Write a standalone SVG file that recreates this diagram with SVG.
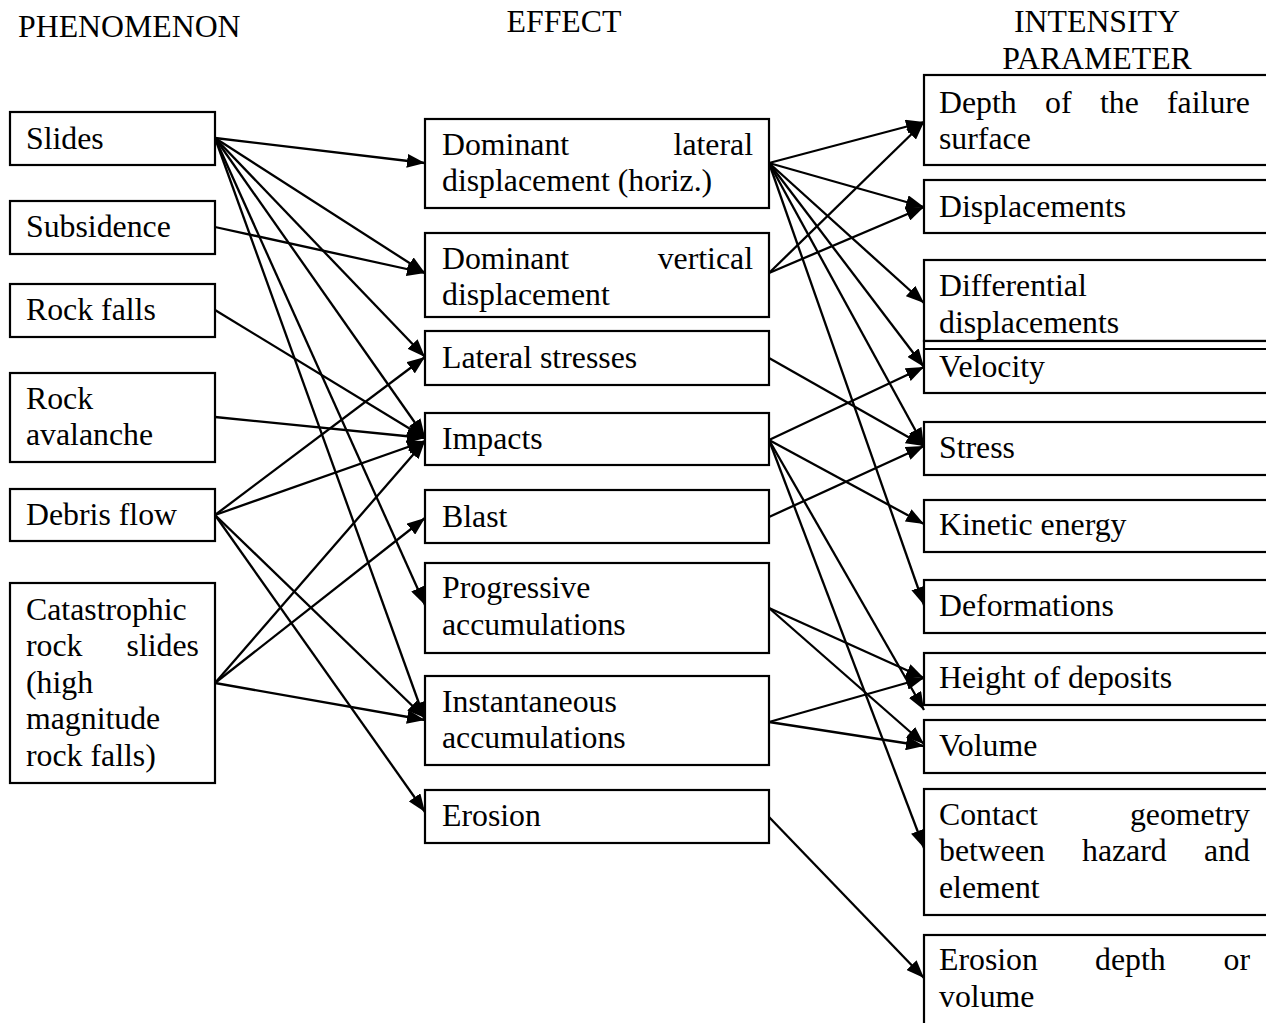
<svg xmlns="http://www.w3.org/2000/svg" width="1266" height="1023" viewBox="0 0 1266 1023">
  <defs>
    <style>
      text { font-family: "Liberation Serif", "Times New Roman", serif; font-size: 31.8px; fill: #000; }
      .box { fill: #fff; stroke: #000; stroke-width: 2.2; }
      .rule { stroke: #000; stroke-width: 2.2; }
      .edge { fill: none; stroke: #000; stroke-width: 2.3; marker-end: url(#ah); }
      .hdr { text-anchor: middle; }
      .end { text-anchor: end; }
    </style>
    <marker id="ah" viewBox="0 0 18 14" markerWidth="18" markerHeight="14" refX="18" refY="7" orient="auto" markerUnits="userSpaceOnUse">
      <path d="M0,0 L18,7 L0,14 z" fill="#000"/>
    </marker>
  </defs>
  <rect width="1266" height="1023" fill="#fff"/>

  <!-- column headings -->
  <g id="headings">
    <text x="18" y="37">PHENOMENON</text>
    <text class="hdr" x="564" y="32">EFFECT</text>
    <text class="hdr" x="1097" y="32">INTENSITY</text>
    <text class="hdr" x="1097" y="69">PARAMETER</text>
  </g>

  <!-- phenomena -->
  <g id="p-slides"><rect class="box" x="10" y="112" width="205" height="53"/><text x="26" y="149">Slides</text></g>
  <g id="p-subsidence"><rect class="box" x="10" y="201" width="205" height="53"/><text x="26" y="237">Subsidence</text></g>
  <g id="p-rockfalls"><rect class="box" x="10" y="284" width="205" height="53"/><text x="26" y="320">Rock falls</text></g>
  <g id="p-avalanche"><rect class="box" x="10" y="373" width="205" height="89"/><text x="26" y="409">Rock</text><text x="26" y="445">avalanche</text></g>
  <g id="p-debris"><rect class="box" x="10" y="489" width="205" height="52"/><text x="26" y="525">Debris flow</text></g>
  <g id="p-catastrophic"><rect class="box" x="10" y="583" width="205" height="200"/>
    <text x="26" y="620">Catastrophic</text>
    <text x="26" y="656">rock</text><text class="end" x="199" y="656">slides</text>
    <text x="26" y="693">(high</text>
    <text x="26" y="729">magnitude</text>
    <text x="26" y="766">rock falls)</text>
  </g>

  <!-- effects -->
  <g id="e-lateral"><rect class="box" x="425" y="119" width="344" height="89"/>
    <text x="442" y="155">Dominant</text><text class="end" x="753" y="155">lateral</text>
    <text x="442" y="191">displacement (horiz.)</text>
  </g>
  <g id="e-vertical"><rect class="box" x="425" y="233" width="344" height="84"/>
    <text x="442" y="269">Dominant</text><text class="end" x="753" y="269">vertical</text>
    <text x="442" y="305">displacement</text>
  </g>
  <g id="e-stresses"><rect class="box" x="425" y="331" width="344" height="54"/><text x="442" y="368">Lateral stresses</text></g>
  <g id="e-impacts"><rect class="box" x="425" y="413" width="344" height="52"/><text x="442" y="449">Impacts</text></g>
  <g id="e-blast"><rect class="box" x="425" y="490" width="344" height="53"/><text x="442" y="527">Blast</text></g>
  <g id="e-progressive"><rect class="box" x="425" y="563" width="344" height="90"/><text x="442" y="598">Progressive</text><text x="442" y="635">accumulations</text></g>
  <g id="e-instantaneous"><rect class="box" x="425" y="676" width="344" height="89"/><text x="442" y="712">Instantaneous</text><text x="442" y="748">accumulations</text></g>
  <g id="e-erosion"><rect class="box" x="425" y="790" width="344" height="53"/><text x="442" y="826">Erosion</text></g>

  <!-- intensity parameters (boxes run past the right edge) -->
  <g id="i-depth"><rect class="box" x="924" y="75" width="351" height="90"/>
    <text x="939" y="113">Depth</text><text x="1045" y="113">of</text><text x="1100" y="113">the</text><text class="end" x="1250" y="113">failure</text>
    <text x="939" y="149">surface</text>
  </g>
  <g id="i-displacements"><rect class="box" x="924" y="180" width="351" height="53"/><text x="939" y="217">Displacements</text></g>
  <g id="i-differential"><rect class="box" x="924" y="260" width="351" height="81"/><text x="939" y="296">Differential</text><text x="939" y="333">displacements</text></g>
  <g id="i-velocity"><rect class="box" x="924" y="341" width="351" height="52"/><line class="rule" x1="924" y1="349" x2="1275" y2="349"/><text x="939" y="377">Velocity</text></g>
  <g id="i-stress"><rect class="box" x="924" y="422" width="351" height="53"/><text x="939" y="458">Stress</text></g>
  <g id="i-kinetic"><rect class="box" x="924" y="500" width="351" height="52"/><text x="939" y="535">Kinetic energy</text></g>
  <g id="i-deformations"><rect class="box" x="924" y="580" width="351" height="53"/><text x="939" y="616">Deformations</text></g>
  <g id="i-height"><rect class="box" x="924" y="653" width="351" height="52"/><text x="939" y="688">Height of deposits</text></g>
  <g id="i-volume"><rect class="box" x="924" y="720" width="351" height="53"/><text x="939" y="756">Volume</text></g>
  <g id="i-contact"><rect class="box" x="924" y="789" width="351" height="126"/>
    <text x="939" y="825">Contact</text><text class="end" x="1250" y="825">geometry</text>
    <text x="939" y="861">between</text><text x="1082" y="861">hazard</text><text class="end" x="1250" y="861">and</text>
    <text x="939" y="898">element</text>
  </g>
  <g id="i-erosion"><rect class="box" x="924" y="935" width="351" height="100"/>
    <text x="939" y="970">Erosion</text><text x="1095" y="970">depth</text><text class="end" x="1250" y="970">or</text>
    <text x="939" y="1007">volume</text>
  </g>

  <!-- connectors -->
  <g id="connectors">
    <!-- phenomenon to effect -->
    <line class="edge" x1="215" y1="138" x2="425" y2="163"/>
    <line class="edge" x1="215" y1="138" x2="425" y2="273"/>
    <line class="edge" x1="215" y1="138" x2="425" y2="357"/>
    <line class="edge" x1="215" y1="138" x2="425" y2="437"/>
    <line class="edge" x1="215" y1="138" x2="425" y2="605"/>
    <line class="edge" x1="215" y1="138" x2="425" y2="720"/>
    <line class="edge" x1="215" y1="227" x2="425" y2="273"/>
    <line class="edge" x1="215" y1="310" x2="425" y2="438"/>
    <line class="edge" x1="215" y1="417" x2="425" y2="438"/>
    <line class="edge" x1="215" y1="515" x2="425" y2="357"/>
    <line class="edge" x1="215" y1="515" x2="425" y2="441"/>
    <line class="edge" x1="215" y1="515" x2="425" y2="718"/>
    <line class="edge" x1="215" y1="515" x2="425" y2="812"/>
    <line class="edge" x1="215" y1="683" x2="425" y2="441"/>
    <line class="edge" x1="215" y1="683" x2="425" y2="518"/>
    <line class="edge" x1="215" y1="683" x2="425" y2="720"/>
    <!-- effect to intensity parameter -->
    <line class="edge" x1="769" y1="163" x2="924" y2="122"/>
    <line class="edge" x1="769" y1="163" x2="924" y2="207"/>
    <line class="edge" x1="769" y1="163" x2="924" y2="303"/>
    <line class="edge" x1="769" y1="163" x2="924" y2="367"/>
    <line class="edge" x1="769" y1="163" x2="924" y2="446"/>
    <line class="edge" x1="769" y1="163" x2="924" y2="605"/>
    <line class="edge" x1="769" y1="273" x2="924" y2="122"/>
    <line class="edge" x1="769" y1="273" x2="924" y2="207"/>
    <line class="edge" x1="769" y1="358" x2="924" y2="446"/>
    <line class="edge" x1="769" y1="440" x2="924" y2="367"/>
    <line class="edge" x1="769" y1="440" x2="924" y2="524"/>
    <line class="edge" x1="769" y1="440" x2="924" y2="710"/>
    <line class="edge" x1="769" y1="440" x2="924" y2="848"/>
    <line class="edge" x1="769" y1="517" x2="924" y2="446"/>
    <line class="edge" x1="769" y1="608" x2="924" y2="678"/>
    <line class="edge" x1="769" y1="608" x2="924" y2="744"/>
    <line class="edge" x1="769" y1="722" x2="924" y2="678"/>
    <line class="edge" x1="769" y1="722" x2="924" y2="746"/>
    <line class="edge" x1="769" y1="817" x2="924" y2="978"/>
  </g>
</svg>
